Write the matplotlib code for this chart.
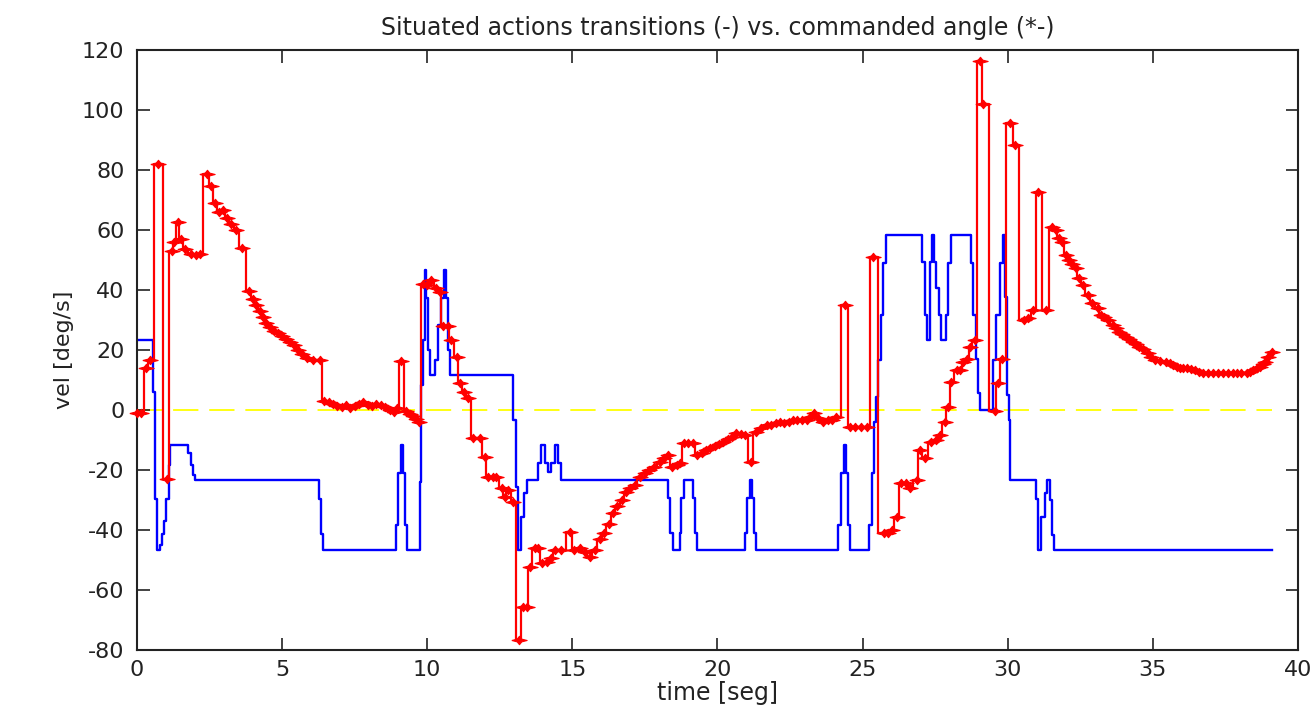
import numpy as np
import matplotlib
matplotlib.use("Agg")
import matplotlib.pyplot as plt

# commanded angle (*-), sampled points
cmd_t = [0.00, 0.15, 0.30, 0.45, 0.74, 1.02, 1.19, 1.28, 1.40, 1.50, 1.65, 1.85, 2.05, 2.17,
         2.40, 2.55, 2.70, 2.83, 2.97, 3.10, 3.25, 3.40, 3.63, 3.85, 3.98, 4.10, 4.23, 4.35,
         4.46, 4.58, 4.72, 4.85, 5.00, 5.13, 5.26, 5.40, 5.55, 5.70, 5.85, 6.05, 6.30, 6.45,
         6.60, 6.75, 6.90, 7.05, 7.20, 7.35, 7.50, 7.65, 7.80, 7.95, 8.10, 8.25, 8.40, 8.55,
         8.70, 8.85, 8.97, 9.11, 9.28, 9.40, 9.51, 9.62, 9.73, 9.87, 10.00, 10.14, 10.30, 10.43,
         10.55, 10.70, 10.83, 11.01, 11.12, 11.28, 11.41, 11.58, 11.81, 11.98, 12.10, 12.25,
         12.38, 12.56, 12.67, 12.79, 12.96, 13.16, 13.30, 13.42, 13.55, 13.70, 13.82, 13.95,
         14.11, 14.25, 14.40, 14.62, 14.91, 15.05, 15.25, 15.43, 15.60, 15.77, 15.94, 16.10,
         16.25, 16.40, 16.55, 16.70, 16.86, 17.00, 17.15, 17.32, 17.50, 17.65, 17.80, 18.01,
         18.15, 18.30, 18.45, 18.60, 18.72, 18.85, 19.00, 19.15, 19.30, 19.45, 19.60, 19.75,
         19.90, 20.05, 20.20, 20.35, 20.50, 20.65, 20.80, 20.95, 21.15, 21.33, 21.50, 21.69,
         21.85, 22.00, 22.15, 22.30, 22.45, 22.61, 22.75, 22.90, 23.08, 23.20, 23.32, 23.48,
         23.64, 23.80, 23.95, 24.10, 24.38, 24.58, 24.75, 24.95, 25.15, 25.36, 25.72, 25.88,
         26.02, 26.17, 26.34, 26.50, 26.63, 26.86, 26.97, 27.14, 27.37, 27.52, 27.66, 27.83,
         27.95, 28.06, 28.24, 28.35, 28.47, 28.60, 28.70, 28.87, 29.04, 29.16, 29.55, 29.65,
         29.80, 30.08, 30.25, 30.55, 30.70, 30.87, 31.05, 31.31, 31.54, 31.65, 31.77, 31.88,
         32.00, 32.11, 32.22, 32.34, 32.46, 32.60, 32.75, 32.92, 33.10, 33.21, 33.33, 33.44,
         33.61, 33.72, 33.84, 33.95, 34.07, 34.18, 34.30, 34.42, 34.53, 34.65, 34.82, 34.95,
         35.07, 35.25, 35.47, 35.60, 35.70, 35.82, 35.93, 36.05, 36.16, 36.30, 36.45, 36.60,
         36.73, 36.90, 37.08, 37.25, 37.42, 37.60, 37.75, 37.90, 38.05, 38.23, 38.35, 38.46,
         38.58, 38.69, 38.78, 38.86, 38.97, 39.10]
cmd_v = [-1, -1, 14, 16.5, 82, -23, 53, 56, 62.5, 57, 53.5, 52, 51.5, 52,
         78.5, 74.5, 69, 66, 66.5, 64, 62, 60, 54, 39.6, 37, 35, 33, 31,
         29, 27.5, 26.4, 25.5, 24.5, 23.8, 22.8, 21.5, 20, 18.5, 17.2, 16.5, 16.5, 3,
         2.5, 2, 1.3, 1, 1.5, 0.7, 1.3, 2, 2.6, 1.8, 1.3, 2, 1.5, 1,
         0, -0.7, 0.7, 16.2, -0.5, -1.2, -2, -3, -4, 42, 41.5, 43.3, 40.6, 39.4,
         28, 28, 23.3, 17.8, 9, 6, 4, -9.4, -9.4, -15.6, -22.2, -22.2,
         -22.2, -26.1, -29, -26.7, -30.6, -76.7, -65.6, -65.6, -52.2, -46.1, -46.1, -51.1,
         -50.6, -49.4, -46.5, -46.7, -40.6, -46.7, -46, -47.2, -48.9, -46.7, -43, -41,
         -38, -34.4, -32, -30, -27.5, -26, -25, -22.5, -21.1, -20, -18.9, -17.2,
         -16, -15, -19, -18.5, -17.8, -11.1, -11.1, -11.1, -15, -14.2, -13.5, -12.8,
         -12, -11.5, -10.6, -9.7, -8.9, -7.8, -8, -8.3, -17.5, -7.2, -6.1, -5,
         -5, -4.5, -3.9, -4.2, -3.9, -3.3, -3.3, -3.3, -3.3, -2.2, -1.1, -2.8,
         -3.9, -3.3, -3.3, -2.2, 35, -5.6, -5.6, -5.6, -5.6, 51.1, -41.1, -41.1,
         -40, -35.6, -24.4, -24.4, -26.1, -23.3, -13.3, -16.1, -10.6, -10, -8.3, -3.9,
         1.1, 9.4, 13.3, 13.3, 16.1, 17, 21.1, 23.3, 116.4, 102, -0.4, 9,
         17, 95.6, 88.4, 30, 30.6, 33.3, 72.8, 33.3, 61, 60, 57.2, 56.1,
         51.7, 50, 48.5, 47.2, 44, 41.5, 38.3, 35.6, 33.9, 31.7, 31, 30,
         28.3, 27.2, 26.1, 25.2, 24.4, 23.6, 22.8, 21.9, 21.1, 20.2, 18.9, 17.8,
         16.8, 16.4, 16.1, 15.5, 15, 14.4, 13.9, 13.9, 13.9, 13.6, 13.3, 12.8,
         12.2, 12.2, 12.2, 12.2, 12.2, 12.2, 12.2, 12.2, 12.2, 12.2, 12.8, 13.3,
         13.9, 14.4, 15.3, 16.1, 17.8, 19.4]

# situated action transitions (-), value held from each change time
act_t = [0.00, 0.55, 0.61, 0.69, 0.78, 0.86, 0.93, 1.01, 1.09, 1.15, 1.76, 1.85, 1.93, 2.01,
         6.26, 6.33, 6.41, 8.92, 9.00, 9.08, 9.15, 9.23, 9.31, 9.74, 9.80, 9.86, 9.92, 9.97,
         10.03, 10.09, 10.26, 10.37, 10.49, 10.57, 10.64, 10.72, 10.78, 12.96, 13.05, 13.13,
         13.24, 13.33, 13.42, 13.82, 13.93, 14.05, 14.16, 14.28, 14.39, 14.51, 14.60, 18.30,
         18.38, 18.47, 18.70, 18.76, 18.84, 19.14, 19.22, 19.30, 20.94, 21.03, 21.11, 21.19,
         21.25, 21.32, 24.16, 24.27, 24.35, 24.44, 24.50, 24.56, 25.22, 25.31, 25.39, 25.46,
         25.54, 25.62, 25.71, 25.82, 27.03, 27.14, 27.23, 27.33, 27.38, 27.46, 27.54, 27.62,
         27.70, 27.87, 27.95, 28.04, 28.72, 28.81, 28.90, 28.98, 29.06, 29.50, 29.60, 29.72,
         29.82, 29.92, 29.98, 30.03, 30.07, 30.97, 31.05, 31.16, 31.28, 31.36, 31.45, 31.54,
         31.59, 39.10]
act_v = [23.3, 6, -29.7, -46.7, -45, -41.3, -37, -29.7, -18.5, -11.7, -14.5, -18.5, -21.8, -23.3,
         -29.7, -41.3, -46.7, -38.3, -21.1, -11.7, -21.1, -38.3, -46.7, -23.9, 8.3, 23.3, 46.7, 37.2,
         20, 11.7, 16.7, 28.3, 37.2, 46.7, 37.2, 20, 11.7, -3.3, -25.6, -46.7,
         -35.6, -27.8, -23.3, -17.8, -11.7, -17.8, -20.6, -17.8, -11.7, -17.8, -23.3, -29.4,
         -41.1, -46.7, -41.1, -29.4, -23.3, -29.4, -41.1, -46.7, -41.1, -29.4, -23.3, -29.4,
         -41.1, -46.7, -38.3, -21.1, -11.7, -21.1, -38.3, -46.7, -38.3, -21.1, -3.9, 4.4,
         16.7, 31.7, 48.9, 58.3, 49.4, 31.7, 23.3, 49.4, 58.3, 49.4, 40.6, 31.7,
         23.3, 31.7, 49.1, 58.3, 49.1, 31.8, 17, 5.6, 0, 16.7, 31.8, 49.1,
         58.3, 37.8, 5, -3.3, -23.3, -29.6, -46.7, -35.5, -27.8, -23.3, -30, -41.5,
         -46.7, -46.7]

# zero reference
zero_t = [0.0, 39.1]
zero_v = [0.0, 0.0]

xticks = [0, 5, 10, 15, 20, 25, 30, 35, 40]
yticks = [-80, -60, -40, -20, 0, 20, 40, 60, 80, 100, 120]

plt.rcParams['font.family'] = ['DejaVu Sans']
plt.rcParams['axes.unicode_minus'] = False

fig = plt.figure(figsize=(13.16, 7.15), dpi=100)
ax = fig.add_axes([0.1041, 0.0909, 0.8822, 0.8392])

ax.plot(zero_t, zero_v, color='#ffff00', lw=1.3, dashes=(14, 6), zorder=1)
ax.plot(act_t, act_v, color='#0000ff', lw=1.7, drawstyle='steps-post', zorder=2)

# horizontally elongated star marker
star = [(-1.0, 0.0), (-0.3, 0.18), (0.0, 0.55), (0.3, 0.18), (1.0, 0.0),
        (0.3, -0.18), (0.0, -0.55), (-0.3, -0.18), (-1.0, 0.0)]
ax.plot(cmd_t, cmd_v, color='#ff0000', lw=1.6, drawstyle='steps-mid',
        marker=star, markersize=11, markerfacecolor='#ff0000',
        markeredgecolor='#ff0000', markeredgewidth=0.8, clip_on=False, zorder=3)

ax.set_xlim(0, 40)
ax.set_ylim(-80, 120)
ax.set_xticks(xticks)
ax.set_yticks(yticks)
ax.tick_params(direction='in', length=9, width=1.2, top=True, right=True,
               labelsize=16, colors='#222222')
ax.tick_params(axis='x', pad=7)
ax.tick_params(axis='y', pad=9)
for sp in ax.spines.values():
    sp.set_linewidth(1.5)
    sp.set_color('#222222')

ax.set_title('Situated actions transitions (-) vs. commanded angle (*-)',
             fontsize=17, pad=11, color='#222222')
ax.set_xlabel('time [seg]', fontsize=17, labelpad=1, color='#222222')
ax.set_ylabel('vel [deg/s]', fontsize=16, labelpad=6, color='#222222')

fig.savefig('out.png', dpi=100, facecolor='white')
